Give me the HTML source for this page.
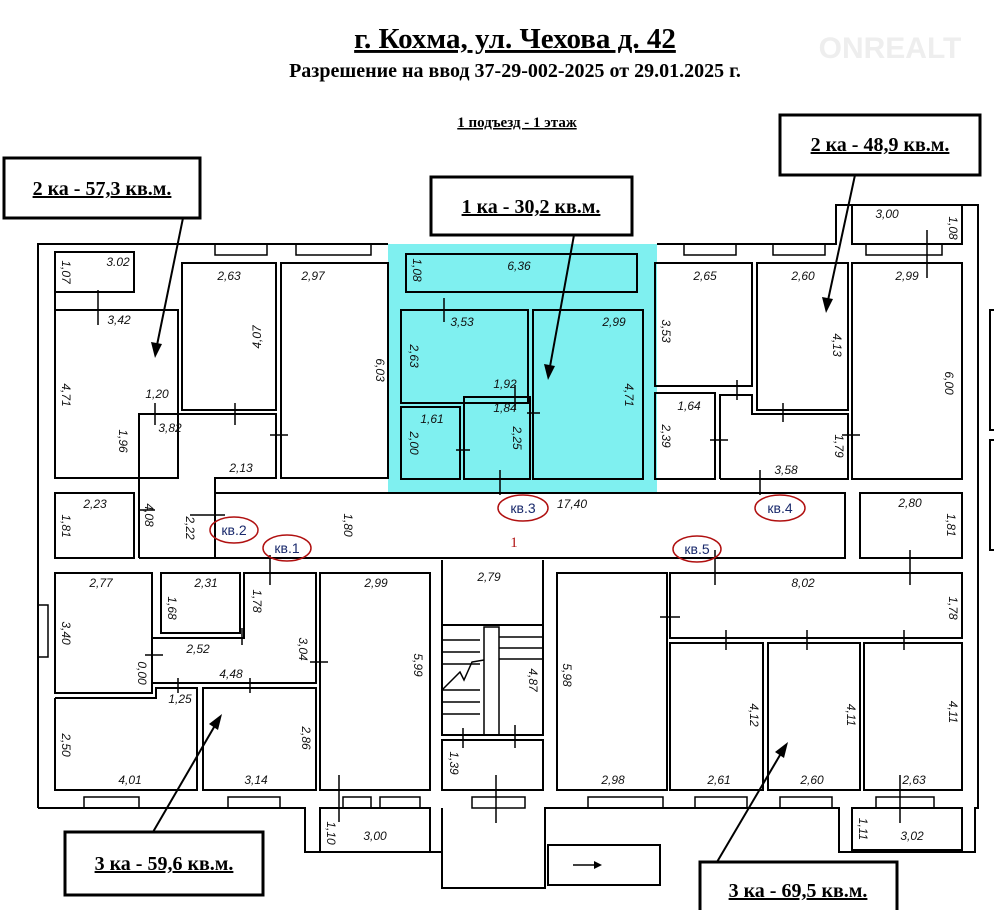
<!DOCTYPE html>
<html><head><meta charset="utf-8"><style>
html,body{margin:0;padding:0;background:#fff;}
svg{display:block}
.t{font-family:"Liberation Serif",serif;font-weight:bold;fill:#000}
.d{font-family:"Liberation Sans",sans-serif;font-style:italic;font-size:12px;fill:#111}
.k{font-family:"Liberation Sans",sans-serif;font-size:14px;fill:#1a2a6c}
</style></head><body>
<svg width="994" height="910" viewBox="0 0 994 910" xmlns="http://www.w3.org/2000/svg">
<rect width="994" height="910" fill="#fff"/>
<text x="515" y="48" text-anchor="middle" class="t" font-size="29" text-decoration="underline">г. Кохма, ул. Чехова д. 42</text>
<text x="515" y="77" text-anchor="middle" class="t" font-size="20">Разрешение на ввод 37-29-002-2025 от 29.01.2025 г.</text>
<text x="890" y="58" text-anchor="middle" font-family="Liberation Sans,sans-serif" font-weight="bold" font-size="30" fill="#eee">ONREALT</text>
<text x="517" y="127" text-anchor="middle" class="t" font-size="15" text-decoration="underline">1 подъезд - 1 этаж</text>

<rect x="388" y="244" width="269" height="248" fill="#7ff0f0"/>
<g fill="none" stroke="#000" stroke-width="2">
<polyline points="38,808 38,244 388,244"/>
<polyline points="657,244 836,244 836,205 978,205 978,244 978,808 975,808 975,852 839,852 839,808 545,808 545,888 442,888 442,808 442,852 305,852 305,808 38,808"/>
<polyline points="55,478 55,252 134,252 134,292 55,292"/>
<rect x="55" y="310" width="123" height="168"/>
<rect x="182" y="263" width="94" height="147"/>
<rect x="281" y="263" width="107" height="215"/>
<polyline points="139,558 139,414 276,414 276,478 215,478 215,558 139,558"/>
<rect x="55" y="493" width="79" height="65"/>
<rect x="215" y="493" width="630" height="65"/>
<rect x="406" y="254" width="231" height="38"/>
<rect x="401" y="310" width="127" height="93"/>
<rect x="533" y="310" width="110" height="169"/>
<rect x="401" y="407" width="59" height="72"/>
<rect x="464" y="397" width="66" height="82"/>
<rect x="655" y="263" width="97" height="123"/>
<rect x="757" y="263" width="91" height="147"/>
<rect x="852" y="263" width="110" height="216"/>
<rect x="852" y="205" width="110" height="39"/>
<rect x="655" y="393" width="60" height="86"/>
<polyline points="720,479 720,395 752,395 752,414 848,414 848,479 720,479"/>
<rect x="860" y="493" width="102" height="65"/>
<rect x="55" y="573" width="97" height="120"/>
<rect x="161" y="573" width="79" height="60"/>
<polyline points="152,683 152,638 244,638 244,573 316,573 316,683 152,683"/>
<polyline points="55,698 156,698 156,688 197,688 197,790 55,790 55,698"/>
<rect x="203" y="688" width="113" height="102"/>
<rect x="320" y="573" width="110" height="217"/>
<rect x="320" y="808" width="110" height="44"/>
<polyline points="442,560 442,625 543,625 543,560"/>
<rect x="442" y="625" width="101" height="110"/>
<rect x="442" y="740" width="101" height="50"/>
<rect x="557" y="573" width="110" height="217"/>
<rect x="670" y="573" width="292" height="65"/>
<rect x="670" y="643" width="93" height="147"/>
<rect x="768" y="643" width="92" height="147"/>
<rect x="864" y="643" width="98" height="147"/>
<rect x="852" y="808" width="110" height="42"/>
<rect x="548" y="845" width="112" height="40"/>
<rect x="990" y="310" width="10" height="120"/><rect x="990" y="440" width="10" height="110"/>
</g>
<g stroke="#000" stroke-width="1.5" fill="none">
<rect x="84" y="797" width="55" height="11"/><rect x="228" y="797" width="52" height="11"/>
<rect x="343" y="797" width="28" height="11"/><rect x="380" y="797" width="40" height="11"/>
<rect x="472" y="797" width="53" height="11"/><rect x="588" y="797" width="75" height="11"/>
<rect x="695" y="797" width="52" height="11"/><rect x="780" y="797" width="52" height="11"/>
<rect x="876" y="797" width="58" height="11"/>
<rect x="215" y="244" width="52" height="11"/><rect x="296" y="244" width="75" height="11"/>
<rect x="684" y="244" width="52" height="11"/><rect x="773" y="244" width="52" height="11"/>
<rect x="866" y="244" width="76" height="11"/>
<rect x="38" y="605" width="10" height="52"/>
<line x1="442" y1="640" x2="480" y2="640"/><line x1="442" y1="652" x2="480" y2="652"/><line x1="442" y1="664" x2="480" y2="664"/>
<line x1="442" y1="690" x2="480" y2="690"/><line x1="442" y1="702" x2="480" y2="702"/><line x1="442" y1="714" x2="480" y2="714"/>
<rect x="484" y="627" width="15" height="108"/>
<line x1="499" y1="637" x2="543" y2="637"/><line x1="499" y1="648" x2="543" y2="648"/><line x1="499" y1="659" x2="543" y2="659"/>
<polyline points="442,690 460,672 464,680 472,662 484,660"/>
<line x1="98" y1="290" x2="98" y2="325"/><line x1="155" y1="403" x2="155" y2="425"/><line x1="235" y1="403" x2="235" y2="425"/>
<line x1="270" y1="435" x2="288" y2="435"/><line x1="140" y1="510" x2="155" y2="510"/><line x1="190" y1="515" x2="225" y2="515"/>
<line x1="444" y1="298" x2="444" y2="322"/><line x1="515" y1="385" x2="515" y2="410"/><line x1="527" y1="413" x2="540" y2="413"/>
<line x1="456" y1="450" x2="470" y2="450"/><line x1="500" y1="470" x2="500" y2="495"/>
<line x1="737" y1="380" x2="737" y2="400"/><line x1="783" y1="403" x2="783" y2="422"/><line x1="710" y1="440" x2="728" y2="440"/>
<line x1="842" y1="435" x2="860" y2="435"/><line x1="760" y1="470" x2="760" y2="495"/><line x1="927" y1="230" x2="927" y2="278"/>
<line x1="910" y1="550" x2="910" y2="585"/><line x1="715" y1="550" x2="715" y2="585"/><line x1="807" y1="630" x2="807" y2="650"/>
<line x1="726" y1="630" x2="726" y2="650"/><line x1="904" y1="630" x2="904" y2="650"/><line x1="660" y1="617" x2="680" y2="617"/>
<line x1="900" y1="775" x2="900" y2="823"/><line x1="270" y1="555" x2="270" y2="585"/><line x1="242" y1="628" x2="242" y2="645"/>
<line x1="145" y1="655" x2="163" y2="655"/><line x1="178" y1="678" x2="178" y2="693"/><line x1="250" y1="678" x2="250" y2="693"/>
<line x1="310" y1="662" x2="328" y2="662"/><line x1="339" y1="775" x2="339" y2="822"/><line x1="463" y1="728" x2="463" y2="748"/>
<line x1="515" y1="725" x2="515" y2="748"/><line x1="496" y1="775" x2="496" y2="823"/>
</g>
<g stroke="#000" stroke-width="2">
<line x1="183" y1="218" x2="156" y2="350"/><line x1="574" y1="235" x2="549" y2="372"/>
<line x1="855" y1="175" x2="827" y2="305"/><line x1="153" y1="832" x2="217" y2="722"/>
<line x1="717" y1="862" x2="783" y2="750"/>
<line x1="573" y1="865" x2="598" y2="865" stroke-width="1.5"/>
</g>
<g fill="#000">
<polygon points="155,358 151,342 162,344"/><polygon points="548,380 544,364 555,366"/>
<polygon points="826,313 822,297 833,299"/><polygon points="222,714 209,724 218,730"/>
<polygon points="788,742 775,752 784,758"/><polygon points="602,865 594,861 594,869"/>
</g>
<g fill="#fff" stroke="#000" stroke-width="3">
<rect x="4" y="158" width="196" height="60"/><rect x="431" y="177" width="201" height="58"/>
<rect x="780" y="115" width="200" height="60"/><rect x="65" y="832" width="198" height="63"/>
<rect x="700" y="862" width="197" height="52"/>
</g>
<g class="t" font-size="20" text-anchor="middle" text-decoration="underline">
<text x="102" y="195">2 ка - 57,3 кв.м.</text><text x="531" y="213">1 ка - 30,2 кв.м.</text>
<text x="880" y="151">2 ка - 48,9 кв.м.</text><text x="164" y="870">3 ка - 59,6 кв.м.</text>
<text x="798" y="897">3 ка - 69,5 кв.м.</text>
</g>
<g fill="none" stroke="#b01010" stroke-width="1.5">
<ellipse cx="523" cy="508" rx="25" ry="13"/><ellipse cx="780" cy="508" rx="25" ry="13"/>
<ellipse cx="234" cy="530" rx="24" ry="13"/><ellipse cx="287" cy="548" rx="24" ry="13"/>
<ellipse cx="697" cy="549" rx="24" ry="13"/>
</g>
<g class="k" text-anchor="middle">
<text x="523" y="513">кв.3</text><text x="780" y="513">кв.4</text><text x="234" y="535">кв.2</text>
<text x="287" y="553">кв.1</text><text x="697" y="554">кв.5</text>
</g>
<text x="514" y="547" font-family="Liberation Serif,serif" font-size="15" fill="#b01010" text-anchor="middle">1</text>
<g class="d" text-anchor="middle">
<text x="118" y="266">3.02</text><text x="119" y="324">3,42</text><text x="157" y="398">1,20</text>
<text x="229" y="280">2,63</text><text x="313" y="280">2,97</text><text x="170" y="432">3,82</text>
<text x="241" y="472">2,13</text><text x="95" y="508">2,23</text><text x="572" y="508">17,40</text>
<text x="519" y="270">6,36</text><text x="462" y="326">3,53</text><text x="614" y="326">2,99</text>
<text x="432" y="423">1,61</text><text x="505" y="388">1,92</text><text x="505" y="412">1,84</text>
<text x="705" y="280">2,65</text><text x="803" y="280">2,60</text><text x="907" y="280">2,99</text>
<text x="887" y="218">3,00</text><text x="689" y="410">1,64</text><text x="786" y="474">3,58</text>
<text x="910" y="507">2,80</text><text x="101" y="587">2,77</text><text x="206" y="587">2,31</text>
<text x="198" y="653">2,52</text><text x="231" y="678">4,48</text><text x="180" y="703">1,25</text>
<text x="130" y="784">4,01</text><text x="256" y="784">3,14</text><text x="376" y="587">2,99</text>
<text x="489" y="581">2,79</text><text x="375" y="840">3,00</text><text x="613" y="784">2,98</text>
<text x="803" y="587">8,02</text><text x="719" y="784">2,61</text><text x="812" y="784">2,60</text>
<text x="914" y="784">2,63</text><text x="912" y="840">3,02</text>
</g>
<g class="d" text-anchor="middle">
<text transform="translate(62,272) rotate(90)">1,07</text><text transform="translate(62,395) rotate(90)">4,71</text>
<text transform="translate(119,441) rotate(90)">1,96</text><text transform="translate(261,337) rotate(-90)">4,07</text>
<text transform="translate(376,370) rotate(90)">6,03</text><text transform="translate(145,515) rotate(90)">4,08</text>
<text transform="translate(186,528) rotate(90)">2,22</text><text transform="translate(62,526) rotate(90)">1,81</text>
<text transform="translate(344,525) rotate(90)">1,80</text><text transform="translate(413,270) rotate(90)">1,08</text>
<text transform="translate(410,356) rotate(90)">2,63</text><text transform="translate(410,443) rotate(90)">2,00</text>
<text transform="translate(513,438) rotate(90)">2,25</text><text transform="translate(625,395) rotate(90)">4,71</text>
<text transform="translate(662,331) rotate(90)">3,53</text><text transform="translate(662,436) rotate(90)">2,39</text>
<text transform="translate(833,345) rotate(90)">4,13</text><text transform="translate(835,446) rotate(90)">1,79</text>
<text transform="translate(945,383) rotate(90)">6,00</text><text transform="translate(949,228) rotate(90)">1,08</text>
<text transform="translate(947,525) rotate(90)">1,81</text><text transform="translate(62,633) rotate(90)">3,40</text>
<text transform="translate(138,673) rotate(90)">0,00</text><text transform="translate(168,608) rotate(90)">1,68</text>
<text transform="translate(253,601) rotate(90)">1,78</text><text transform="translate(299,649) rotate(90)">3,04</text>
<text transform="translate(62,745) rotate(90)">2,50</text><text transform="translate(302,738) rotate(90)">2,86</text>
<text transform="translate(414,665) rotate(90)">5,99</text><text transform="translate(327,833) rotate(90)">1,10</text>
<text transform="translate(450,763) rotate(90)">1,39</text><text transform="translate(529,680) rotate(90)">4,87</text>
<text transform="translate(563,675) rotate(90)">5,98</text><text transform="translate(750,715) rotate(90)">4,12</text>
<text transform="translate(847,715) rotate(90)">4,11</text><text transform="translate(949,712) rotate(90)">4,11</text>
<text transform="translate(949,608) rotate(90)">1,78</text><text transform="translate(859,829) rotate(90)">1,11</text>
</g>
</svg>
</body></html>
